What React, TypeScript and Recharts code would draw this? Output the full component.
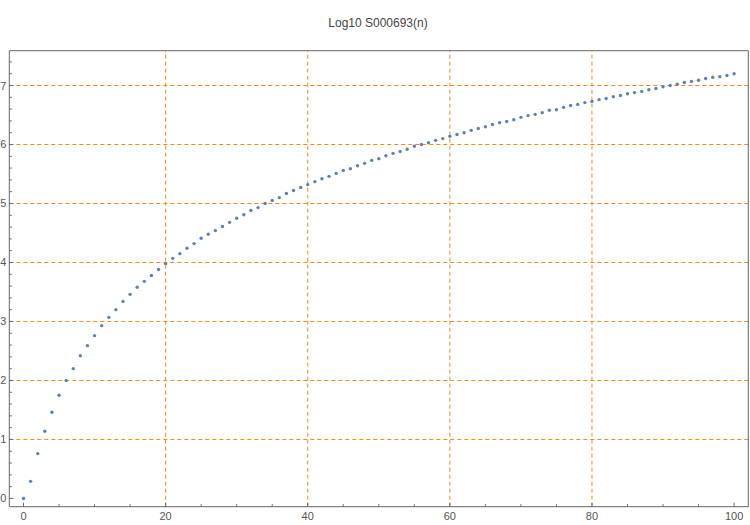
import { ReferenceLine, Scatter, ScatterChart, XAxis, YAxis } from "recharts";

const N_VALUES = Array.from({ length: 101 }, (_, i) => i);

// log10 values, n = 0..100
const LOG_VALUES = [
  0, 0.29, 0.76, 1.14, 1.46, 1.75, 2.0, 2.2, 2.42, 2.59,
  2.76, 2.93, 3.07, 3.2, 3.34, 3.46, 3.58, 3.68, 3.78, 3.88,
  3.98, 4.07, 4.15, 4.24, 4.32, 4.41, 4.48, 4.54, 4.61, 4.68,
  4.75, 4.81, 4.88, 4.93, 5.0, 5.05, 5.1, 5.17, 5.22, 5.27,
  5.32, 5.37, 5.42, 5.46, 5.51, 5.56, 5.59, 5.64, 5.68, 5.73,
  5.76, 5.81, 5.85, 5.88, 5.92, 5.97, 6.0, 6.03, 6.07, 6.1,
  6.14, 6.17, 6.2, 6.24, 6.27, 6.3, 6.34, 6.37, 6.39, 6.42,
  6.46, 6.49, 6.51, 6.54, 6.58, 6.59, 6.63, 6.66, 6.68, 6.71,
  6.73, 6.76, 6.78, 6.81, 6.83, 6.86, 6.88, 6.9, 6.93, 6.95,
  6.98, 7.0, 7.02, 7.05, 7.07, 7.09, 7.12, 7.14, 7.15, 7.17,
  7.2,
];

const X_TICKS = [0, 5, 10, 15, 20, 25, 30, 35, 40, 45, 50, 55, 60, 65, 70, 75, 80, 85, 90, 95, 100];
const X_LABELED = [0, 20, 40, 60, 80, 100];
const Y_TICKS = [
  0, 0.2, 0.4, 0.6, 0.8, 1, 1.2, 1.4, 1.6, 1.8, 2, 2.2, 2.4, 2.6, 2.8, 3, 3.2, 3.4, 3.6, 3.8,
  4, 4.2, 4.4, 4.6, 4.8, 5, 5.2, 5.4, 5.6, 5.8, 6, 6.2, 6.4, 6.6, 6.8, 7, 7.2, 7.4,
];
const Y_LABELED = [0, 1, 2, 3, 4, 5, 6, 7];
const X_GRID = [20, 40, 60, 80];
const Y_GRID = [1, 2, 3, 4, 5, 6, 7];

const data = N_VALUES.map((n, i) => ({ n, v: LOG_VALUES[i] }));

const AXIS = "#666666";
const LABEL = "#555555";
const GRID = "#ef8a1c";
const DOT = "#5e81b5";
const FONT = "'Liberation Sans', Arial, sans-serif";
const TM = 3;

function isMajor(v: number, list: number[]) {
  return list.some((m) => Math.abs(m - v) < 1e-6);
}

function LeftTick(props: any) {
  const { x, y, payload } = props;
  const ax = x + TM;
  const major = isMajor(payload.value, Y_LABELED);
  return (
    <g>
      <line x1={ax} x2={ax + (major ? 4 : 2.5)} y1={y} y2={y} stroke={AXIS} />
      {major && (
        <text x={x} y={y} dy={4} textAnchor="end" fontSize={11} fill={LABEL} fontFamily={FONT}>
          {payload.value}
        </text>
      )}
    </g>
  );
}

function RightTick(props: any) {
  const { x, y, payload } = props;
  const major = isMajor(payload.value, Y_LABELED);
  return <line x1={x} x2={x - (major ? 4 : 2.5)} y1={y} y2={y} stroke={AXIS} />;
}

function BottomTick(props: any) {
  const { x, y, payload } = props;
  const ay = y - 4;
  const major = isMajor(payload.value, X_LABELED);
  return (
    <g>
      <line x1={x} x2={x} y1={ay} y2={ay - (major ? 4 : 2.5)} stroke={AXIS} />
      {major && (
        <text x={x} y={ay + 13} textAnchor="middle" fontSize={11} fill={LABEL} fontFamily={FONT}>
          {payload.value}
        </text>
      )}
    </g>
  );
}

function TopTick(props: any) {
  const { x, y, payload } = props;
  const major = isMajor(payload.value, X_LABELED);
  return <line x1={x} x2={x} y1={y} y2={y + (major ? 4 : 2.5)} stroke={AXIS} />;
}

function Dot(props: any) {
  return <circle cx={props.cx} cy={props.cy} r={1.7} fill={DOT} />;
}

export default function App() {
  return (
    <div style={{ position: "absolute", left: 0, top: 0, width: 750, height: 525, background: "#fff" }}>
      <div
        style={{
          position: "absolute",
          left: 0,
          top: 16,
          width: 756,
          textAlign: "center",
          fontFamily: FONT,
          fontSize: 12,
          color: "#444",
        }}
      >
        Log10 S000693(n)
      </div>
      <ScatterChart width={750} height={525} margin={{ top: 49.7, right: 0.7, bottom: 17.3, left: 8.3 }}>
        <XAxis
          xAxisId="bottom"
          dataKey="n"
          type="number"
          domain={[-2, 102]}
          ticks={X_TICKS}
          interval={0}
          height={1}
          tickSize={0}
          tickMargin={4}
          tick={(p: any) => <BottomTick {...p} />}
          axisLine={{ stroke: AXIS }}
          tickLine={false}
        />
        <XAxis
          xAxisId="top"
          dataKey="n"
          orientation="top"
          type="number"
          domain={[-2, 102]}
          ticks={X_TICKS}
          interval={0}
          height={1}
          tickSize={0}
          tickMargin={0}
          tick={(p: any) => <TopTick {...p} />}
          axisLine={{ stroke: AXIS }}
          tickLine={false}
        />
        <YAxis
          yAxisId="left"
          dataKey="v"
          type="number"
          domain={[-0.14, 7.59]}
          ticks={Y_TICKS}
          interval={0}
          width={1}
          tickSize={0}
          tickMargin={TM}
          tick={(p: any) => <LeftTick {...p} />}
          axisLine={{ stroke: AXIS }}
          tickLine={false}
        />
        <YAxis
          yAxisId="right"
          dataKey="v"
          orientation="right"
          type="number"
          domain={[-0.14, 7.59]}
          ticks={Y_TICKS}
          interval={0}
          width={1}
          tickSize={0}
          tickMargin={0}
          tick={(p: any) => <RightTick {...p} />}
          axisLine={{ stroke: AXIS }}
          tickLine={false}
        />
        {Y_GRID.map((g) => (
          <ReferenceLine key={"y" + g} xAxisId="bottom" yAxisId="left" y={g} stroke={GRID} strokeDasharray="4 3" />
        ))}
        {X_GRID.map((g) => (
          <ReferenceLine key={"x" + g} xAxisId="bottom" yAxisId="left" x={g} stroke={GRID} strokeDasharray="4 3" />
        ))}
        <Scatter data={data} xAxisId="bottom" yAxisId="left" shape={<Dot />} isAnimationActive={false} />
        <Scatter data={[]} xAxisId="top" yAxisId="right" isAnimationActive={false} />
      </ScatterChart>
    </div>
  );
}
